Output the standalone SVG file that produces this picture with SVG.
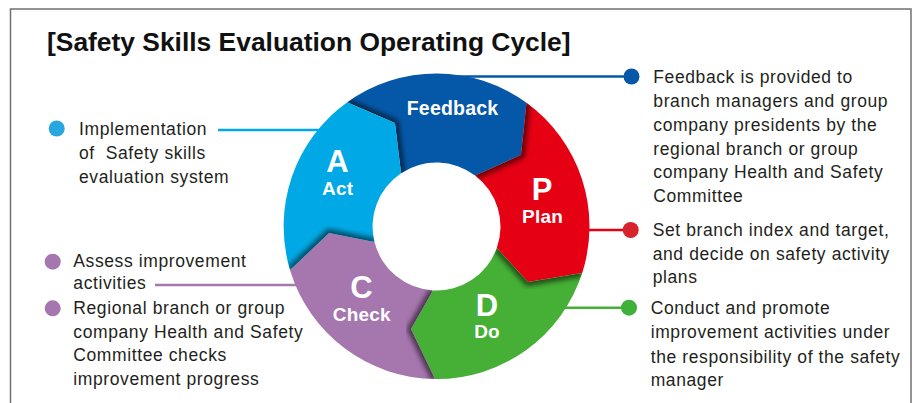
<svg xmlns="http://www.w3.org/2000/svg" width="914" height="403" viewBox="0 0 914 403">
<style>
.body{font-family:"Liberation Sans",Arial,sans-serif;font-size:17.5px;letter-spacing:0.6px;fill:#231f20;white-space:pre}
.title{font-family:"Liberation Sans",Arial,sans-serif;font-size:26.4px;font-weight:bold;fill:#111}
.big{font-family:"Liberation Sans",Arial,sans-serif;font-size:31px;font-weight:bold;fill:#fff;text-anchor:middle}
.lbl{font-family:"Liberation Sans",Arial,sans-serif;font-size:19px;font-weight:bold;fill:#fff;text-anchor:middle;letter-spacing:0.2px}
.conn{stroke-width:2.5;fill:none}
.shadow{fill:none;stroke:#000;stroke-opacity:0.55;stroke-width:8;stroke-linejoin:round;filter:url(#blur)}
</style>
<defs>
<filter id="blur" x="-20%" y="-20%" width="140%" height="140%"><feGaussianBlur stdDeviation="2.5"/></filter>
<path id="pFeedback" d="M347.2,102.3 A153,153 0 0 1 526.5,102.7 L521,155 L475.1,175.5 A64,64 0 0 0 401.1,173.2 L395,123 Z"/>
<path id="pPlan" d="M526.5,102.7 A153,153 0 0 1 582.2,273.1 L528,282 L496.8,248 A64,64 0 0 0 475.1,175.5 L521,155 Z"/>
<path id="pDo" d="M582.2,273.1 A153,153 0 0 1 435,379 L411,329 L433,290.4 A64,64 0 0 0 496.8,248 L528,282 Z"/>
<path id="pCheck" d="M435,379 A153,153 0 0 1 290,270.1 L329,233 L374.5,242.1 A64,64 0 0 0 433,290.4 L411,329 Z"/>
<path id="pAct" d="M290,270.1 A153,153 0 0 1 347.2,102.3 L395,123 L401.1,173.2 A64,64 0 0 0 374.5,242.1 L329,233 Z"/>
<clipPath id="cFeedback"><use href="#pFeedback"/></clipPath>
<clipPath id="cPlan"><use href="#pPlan"/></clipPath>
<clipPath id="cDo"><use href="#pDo"/></clipPath>
<clipPath id="cCheck"><use href="#pCheck"/></clipPath>
<clipPath id="cAct"><use href="#pAct"/></clipPath>
</defs>
<rect width="914" height="403" fill="#fff"/>
<path d="M10.5,403 L10.5,9 L911,9 L911,403" fill="none" stroke="#707070" stroke-width="1.5"/>
<text class="title" x="47" y="51">[Safety Skills Evaluation Operating Cycle]</text>

<g id="connectors">
<line class="conn" x1="218" y1="130" x2="330" y2="130" stroke="#00a9e5"/>
<line class="conn" x1="450" y1="76.5" x2="631" y2="76.5" stroke="#0558a8"/>
<line class="conn" x1="570" y1="230" x2="630" y2="230" stroke="#e60013"/>
<line class="conn" x1="545" y1="307.7" x2="629" y2="307.7" stroke="#45b035"/>
<line class="conn" x1="155" y1="285" x2="310" y2="285" stroke="#a676ae"/>
</g>

<g id="node-feedback">
<use href="#pFeedback" fill="#0558a8"/>
<polyline class="shadow" clip-path="url(#cFeedback)" points="347.2,102.3 395,123 401.1,173.2"/>
<text class="lbl" x="452.5" y="114.5" style="font-size:19.5px">Feedback</text>
</g>
<g id="node-plan">
<use href="#pPlan" fill="#e60013"/>
<polyline class="shadow" clip-path="url(#cPlan)" points="526.5,102.7 521,155 475.1,175.5"/>
<text class="big" x="542" y="200">P</text>
<text class="lbl" x="542.5" y="223">Plan</text>
</g>
<g id="node-do">
<use href="#pDo" fill="#45b035"/>
<polyline class="shadow" clip-path="url(#cDo)" points="582.2,273.1 528,282 496.8,248"/>
<text class="big" x="487" y="316">D</text>
<text class="lbl" x="487" y="338">Do</text>
</g>
<g id="node-check">
<use href="#pCheck" fill="#a676ae"/>
<polyline class="shadow" clip-path="url(#cCheck)" points="435,379 411,329 433,290.4"/>
<text class="big" x="361.5" y="297.5">C</text>
<text class="lbl" x="361.8" y="320.5">Check</text>
</g>
<g id="node-act">
<use href="#pAct" fill="#00a9e5"/>
<polyline class="shadow" clip-path="url(#cAct)" points="290,270.1 329,233 374.5,242.1"/>
<text class="big" x="337.5" y="172">A</text>
<text class="lbl" x="337.7" y="195">Act</text>
</g>

<g id="note-act">
<circle cx="56.7" cy="128.5" r="8" fill="#2aa6df"/>
<text class="body" x="79" y="135">Implementation</text>
<text class="body" x="79" y="158.5">of  Safety skills</text>
<text class="body" x="79" y="182.5">evaluation system</text>
</g>
<g id="note-check">
<circle cx="52.7" cy="261.7" r="8" fill="#a676ae"/>
<circle cx="52.7" cy="308.3" r="8" fill="#a676ae"/>
<text class="body" x="73.3" y="266.7">Assess improvement</text>
<text class="body" x="73.3" y="289.3">activities</text>
<text class="body" x="73.3" y="314">Regional branch or group</text>
<text class="body" x="73.3" y="338.3">company Health and Safety</text>
<text class="body" x="73.3" y="361">Committee checks</text>
<text class="body" x="73.3" y="384.5">improvement progress</text>
</g>
<g id="note-feedback">
<circle cx="631.5" cy="76.5" r="8" fill="#0558a8"/>
<text class="body" x="653.3" y="82.7">Feedback is provided to</text>
<text class="body" x="653.3" y="106.7">branch managers and group</text>
<text class="body" x="653.3" y="130.7">company presidents by the</text>
<text class="body" x="653.3" y="154.5">regional branch or group</text>
<text class="body" x="653.3" y="178.3">company Health and Safety</text>
<text class="body" x="653.3" y="202">Committee</text>
</g>
<g id="note-plan">
<circle cx="630.7" cy="230" r="8" fill="#d7232b"/>
<text class="body" x="652.7" y="236">Set branch index and target,</text>
<text class="body" x="652.7" y="260">and decide on safety activity</text>
<text class="body" x="652.7" y="283">plans</text>
</g>
<g id="note-do">
<circle cx="629" cy="307.7" r="8" fill="#3fb13b"/>
<text class="body" x="650.7" y="314">Conduct and promote</text>
<text class="body" x="650.7" y="338.3">improvement activities under</text>
<text class="body" x="650.7" y="362.7">the responsibility of the safety</text>
<text class="body" x="650.7" y="386">manager</text>
</g>
</svg>
